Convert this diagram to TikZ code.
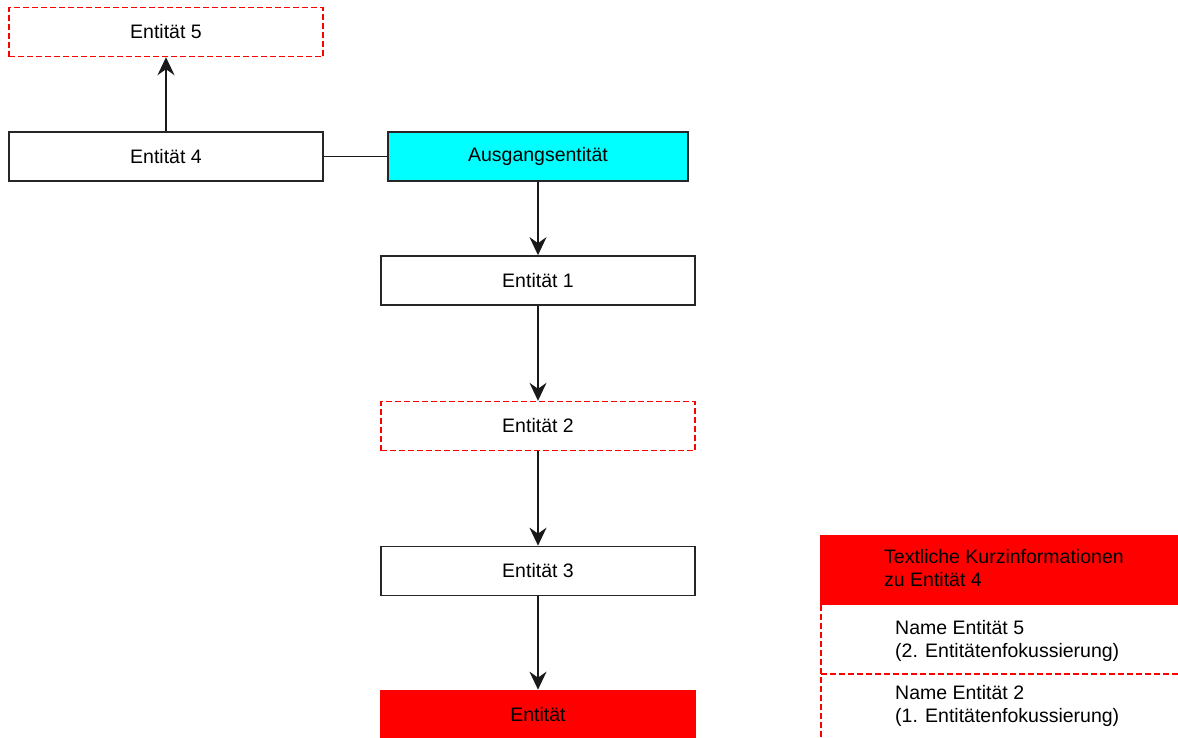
\documentclass[tikz,border=0pt]{standalone}
\usepackage{fontspec}
\setmainfont{Liberation Sans}
\usetikzlibrary{arrows.meta}
\definecolor{pred}{RGB}{255,0,0}
\definecolor{pcyan}{RGB}{0,255,255}
\tikzset{
  box/.style={draw=black!85, line width=1.7pt, minimum width=314pt, minimum height=49pt, inner sep=0pt, font=\fontsize{19.5}{23}\selectfont},
  dbox/.style={box, draw=pred, dash pattern=on 6pt off 3pt, line width=1.4pt},
  conn/.style={line width=1.7pt, black!90},
  arr/.style={conn, -{Stealth[length=18pt, width=17pt, inset=6pt]}},
  ptext/.style={anchor=west, align=left, inner sep=0pt, font=\fontsize{19.5}{23}\selectfont},
  pline/.style={draw=pred, dash pattern=on 6pt off 3pt, line width=1.4pt}
}
\begin{document}
\begin{tikzpicture}[x=1pt,y=-1pt]
\useasboundingbox (0,0) rectangle (1178,737);
\clip (0,0) rectangle (1178,737);
\fill[white] (0,0) rectangle (1178,737);
\node[dbox] (e5) at (166,32) {Entität 5};
\node[box] (e4) at (166,156.5) {Entität 4};
\node[box, fill=pcyan, minimum width=300pt] (aus) at (538,156.5) {Ausgangsentität};
\node[box] (e1) at (538,280.5) {Entität 1};
\node[dbox] (e2) at (538,426) {Entität 2};
\node[box] (e3) at (538,571) {Entität 3};
\node[box, fill=pred, draw=pred] (e) at (538,715) {Entität};
\draw[arr] (e4) -- (e5);
\draw[conn] (e4) -- (aus);
\draw[arr] (aus) -- (e1);
\draw[arr] (e1) -- (e2);
\draw[arr] (e2) -- (e3);
\draw[arr] (e3) -- (e);
% info panel
\node[fill=pred, minimum width=380pt, minimum height=70pt, inner sep=0pt, anchor=north west] (hdr) at (820,535) {};
\node[ptext] (ht) at (884,568.5) {Textliche Kurzinformationen\\zu Entität 4};
\coordinate (pl) at (821,605);
\coordinate (pb) at (821,745);
\coordinate (ml) at (821,674);
\coordinate (mr) at (1190,674);
\draw[pline] (pl) -- (pb);
\draw[pline] (ml) -- (mr);
\node[ptext] (n5) at (895,640.5) {Name Entität 5\\(2. Entitätenfokussierung)};
\node[ptext] (n2) at (895,706) {Name Entität 2\\(1. Entitätenfokussierung)};
\end{tikzpicture}
\end{document}
